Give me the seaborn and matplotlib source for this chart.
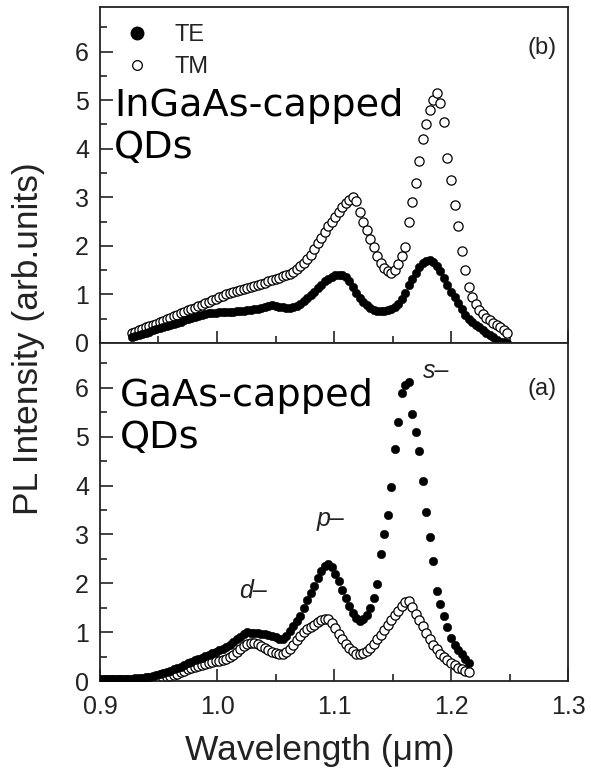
import matplotlib
matplotlib.use("Agg")
import matplotlib.pyplot as plt
import numpy as np
import pandas as pd
import seaborn as sns
from matplotlib.lines import Line2D
from matplotlib.ticker import MultipleLocator, FormatStrFormatter

# ---- (a) GaAs-capped QDs : wavelength grid in nm ----
wl_a_nm = [
    900, 903, 906, 909, 912, 915, 918, 921, 924, 927,
    930, 933, 936, 939, 942, 945, 948, 951, 954, 957,
    960, 963, 966, 969, 972, 975, 978, 981, 984, 987,
    990, 993, 996, 999, 1002, 1005, 1008, 1011, 1014, 1017,
    1020, 1023, 1026, 1029, 1032, 1035, 1038, 1041, 1044, 1047,
    1050, 1053, 1056, 1059, 1062, 1065, 1068, 1071, 1074, 1077,
    1080, 1083, 1086, 1089, 1092, 1095, 1098, 1101, 1104, 1107,
    1110, 1113, 1116, 1119, 1122, 1125, 1128, 1131, 1134, 1137,
    1140, 1143, 1146, 1149, 1152, 1155, 1158, 1161, 1164, 1167,
    1170, 1173, 1176, 1179, 1182, 1185, 1188, 1191, 1194, 1197,
    1200, 1203, 1206, 1209, 1212, 1215,
]
te_a = [
    0.05, 0.05, 0.05, 0.05, 0.05, 0.05, 0.05, 0.05, 0.05, 0.05,
    0.06, 0.06, 0.07, 0.08, 0.09, 0.10, 0.12, 0.14, 0.17, 0.19,
    0.21, 0.24, 0.26, 0.29, 0.32, 0.36, 0.39, 0.42, 0.45, 0.48,
    0.51, 0.54, 0.57, 0.60, 0.63, 0.66, 0.70, 0.74, 0.79, 0.85,
    0.91, 0.96, 1.00, 0.99, 0.98, 0.99, 0.97, 0.96, 0.95, 0.92,
    0.90, 0.87, 0.86, 0.92, 1.02, 1.12, 1.22, 1.34, 1.50, 1.65,
    1.80, 1.95, 2.10, 2.25, 2.36, 2.40, 2.33, 2.20, 2.04, 1.86,
    1.70, 1.54, 1.40, 1.28, 1.23, 1.27, 1.36, 1.50, 1.70, 1.99,
    2.60, 3.00, 3.40, 3.97, 4.75, 5.30, 5.90, 6.05, 6.12, 5.47,
    5.10, 4.70, 4.10, 3.45, 2.95, 2.45, 1.85, 1.58, 1.33, 1.10,
    0.88, 0.74, 0.64, 0.55, 0.46, 0.37,
]
tm_a = [
    0.02, 0.02, 0.02, 0.02, 0.02, 0.02, 0.02, 0.02, 0.02, 0.02,
    0.02, 0.02, 0.02, 0.03, 0.03, 0.04, 0.04, 0.05, 0.06, 0.08,
    0.10, 0.12, 0.15, 0.18, 0.21, 0.24, 0.27, 0.29, 0.31, 0.33,
    0.35, 0.37, 0.38, 0.40, 0.41, 0.43, 0.46, 0.50, 0.54, 0.60,
    0.66, 0.72, 0.76, 0.78, 0.78, 0.76, 0.72, 0.68, 0.64, 0.60,
    0.57, 0.55, 0.56, 0.60, 0.66, 0.74, 0.84, 0.93, 1.00, 1.06,
    1.10, 1.15, 1.20, 1.24, 1.27, 1.26, 1.18, 1.08, 0.96, 0.86,
    0.76, 0.68, 0.61, 0.56, 0.55, 0.57, 0.62, 0.68, 0.76, 0.85,
    0.95, 1.05, 1.14, 1.24, 1.35, 1.44, 1.53, 1.62, 1.64, 1.52,
    1.38, 1.25, 1.12, 0.99, 0.86, 0.74, 0.65, 0.56, 0.49, 0.42,
    0.37, 0.32, 0.27, 0.24, 0.21, 0.18,
]

# ---- (b) InGaAs-capped QDs : wavelength grid in nm ----
wl_b_nm = [
    927, 930, 933, 936, 939, 942, 945, 948, 951, 954,
    957, 960, 963, 966, 969, 972, 975, 978, 981, 984,
    987, 990, 993, 996, 999, 1002, 1005, 1008, 1011, 1014,
    1017, 1020, 1023, 1026, 1029, 1032, 1035, 1038, 1041, 1044,
    1047, 1050, 1053, 1056, 1059, 1062, 1065, 1068, 1071, 1074,
    1077, 1080, 1083, 1086, 1089, 1092, 1095, 1098, 1101, 1104,
    1107, 1110, 1113, 1116, 1119, 1122, 1125, 1128, 1131, 1134,
    1137, 1140, 1143, 1146, 1149, 1152, 1155, 1158, 1161, 1164,
    1167, 1170, 1173, 1176, 1179, 1182, 1185, 1188, 1191, 1194,
    1197, 1200, 1203, 1206, 1209, 1212, 1215, 1218, 1221, 1224,
    1227, 1230, 1233, 1236, 1239, 1242, 1245, 1248,
]
te_b = [
    0.12, 0.14, 0.16, 0.19, 0.21, 0.23, 0.26, 0.28, 0.30, 0.33,
    0.35, 0.37, 0.40, 0.42, 0.44, 0.47, 0.49, 0.51, 0.53, 0.55,
    0.57, 0.59, 0.61, 0.62, 0.62, 0.63, 0.63, 0.64, 0.64, 0.64,
    0.65, 0.65, 0.66, 0.67, 0.68, 0.70, 0.71, 0.73, 0.75, 0.77,
    0.78, 0.77, 0.75, 0.74, 0.73, 0.73, 0.74, 0.76, 0.80, 0.86,
    0.92, 0.99, 1.06, 1.13, 1.20, 1.27, 1.32, 1.36, 1.39, 1.40,
    1.39, 1.35, 1.28, 1.15, 1.02, 0.92, 0.84, 0.78, 0.72, 0.68,
    0.66, 0.65, 0.66, 0.67, 0.70, 0.74, 0.80, 0.90, 1.02, 1.20,
    1.32, 1.45, 1.57, 1.64, 1.68, 1.70, 1.66, 1.58, 1.48, 1.34,
    1.20, 1.06, 0.95, 0.82, 0.69, 0.58, 0.50, 0.44, 0.38, 0.33,
    0.27, 0.21, 0.16, 0.12, 0.07, 0.03, 0.01, 0.00,
]
tm_b = [
    0.20, 0.23, 0.26, 0.29, 0.32, 0.35, 0.38, 0.40, 0.43, 0.46,
    0.49, 0.52, 0.55, 0.58, 0.61, 0.64, 0.67, 0.70, 0.73, 0.76,
    0.79, 0.82, 0.85, 0.88, 0.91, 0.94, 0.97, 1.00, 1.03, 1.05,
    1.07, 1.09, 1.11, 1.13, 1.15, 1.18, 1.20, 1.22, 1.24, 1.27,
    1.29, 1.31, 1.34, 1.37, 1.40, 1.43, 1.47, 1.52, 1.58, 1.64,
    1.72, 1.82, 1.93, 2.05, 2.17, 2.28, 2.40, 2.50, 2.60, 2.70,
    2.80, 2.88, 2.95, 3.00, 2.92, 2.70, 2.50, 2.32, 2.15, 1.98,
    1.80, 1.65, 1.55, 1.48, 1.45, 1.50, 1.62, 1.80, 1.98, 2.50,
    2.90, 3.30, 3.75, 4.20, 4.50, 4.80, 5.00, 5.15, 4.95, 4.55,
    3.80, 3.35, 2.85, 2.40, 1.90, 1.50, 1.15, 0.95, 0.80, 0.68,
    0.60, 0.52, 0.47, 0.42, 0.38, 0.32, 0.27, 0.20,
]

x_ticks = [0.9, 1.0, 1.1, 1.2, 1.3]
y_ticks = [0, 1, 2, 3, 4, 5, 6]

panel_a = pd.DataFrame({"wl": np.array(wl_a_nm) / 1000.0, "TE": te_a, "TM": tm_a})
panel_b = pd.DataFrame({"wl": np.array(wl_b_nm) / 1000.0, "TE": te_b, "TM": tm_b})

sns.set_style("ticks")
plt.rcParams["font.family"] = ["Liberation Sans", "DejaVu Sans"]

ink = "#222222"
fig = plt.figure(figsize=(5.91, 7.73), dpi=100)
ax_b = fig.add_axes([0.1692, 0.5563, 0.7919, 0.4347])
ax_a = fig.add_axes([0.1692, 0.1190, 0.7919, 0.4373])

for ax, df in ((ax_b, panel_b), (ax_a, panel_a)):
    sns.scatterplot(data=df, x="wl", y="TM", ax=ax, marker="o", s=44,
                    color="white", edgecolor="black", linewidth=0.9,
                    legend=False, zorder=2)
    sns.scatterplot(data=df, x="wl", y="TE", ax=ax, marker="o", s=38,
                    color="black", edgecolor="black", linewidth=0.3,
                    legend=False, zorder=3)
    ax.set_xlim(0.9, 1.3)
    ax.set_ylim(0, 6.92)
    ax.set_xticks(x_ticks)
    ax.set_yticks(y_ticks)
    ax.xaxis.set_minor_locator(MultipleLocator(0.05))
    ax.yaxis.set_minor_locator(MultipleLocator(0.5))
    ax.xaxis.set_major_formatter(FormatStrFormatter("%.1f"))
    ax.tick_params(which="both", direction="in", color=ink, width=1.2,
                   labelcolor=ink, labelsize=18)
    ax.tick_params(which="major", length=9)
    ax.tick_params(which="minor", length=5)
    ax.tick_params(axis="y", pad=8)
    ax.tick_params(axis="x", pad=10)
    ax.set_xlabel("")
    ax.set_ylabel("")
    for sp in ax.spines.values():
        sp.set_visible(True)
        sp.set_color(ink)
        sp.set_linewidth(1.3)

ax_b.tick_params(axis="x", labelbottom=False)

# legend
handles = [
    Line2D([], [], marker="o", ls="", color="black", markersize=9),
    Line2D([], [], marker="o", ls="", markerfacecolor="white",
           markeredgecolor="black", markersize=7, markeredgewidth=0.9),
]
leg = ax_b.legend(handles, ["TE", "TM"], loc="upper left",
                  bbox_to_anchor=(0.054, 0.948), frameon=False, fontsize=17,
                  handlelength=1.0, handletextpad=1.1, labelspacing=0.42,
                  borderpad=0, borderaxespad=0)
for t in leg.get_texts():
    t.set_color(ink)

# panel tags
ax_b.text(0.9765, 0.878, "(b)", transform=ax_b.transAxes, ha="right",
          va="center", fontsize=17, color=ink)
ax_a.text(0.9765, 0.864, "(a)", transform=ax_a.transAxes, ha="right",
          va="center", fontsize=17, color=ink)

# sample labels
ax_b.text(0.0306, 0.7574, "InGaAs-capped\nQDs", transform=ax_b.transAxes,
          ha="left", va="top", fontsize=27.5, family="DejaVu Sans",
          color="black", linespacing=1.2)
ax_a.text(0.0427, 0.895, "GaAs-capped\nQDs", transform=ax_a.transAxes,
          ha="left", va="top", fontsize=27.5, family="DejaVu Sans",
          color="black", linespacing=1.2)

# transition labels
ax_a.text(1.1756, 6.20, "s–", fontsize=18, style="italic", color=ink,
          ha="left", va="baseline")
ax_a.text(1.085, 3.18, "p–", fontsize=18, style="italic", color=ink,
          ha="left", va="baseline")
ax_a.text(1.019, 1.70, "d–", fontsize=18, style="italic", color=ink,
          ha="left", va="baseline")

# axis titles
fig.text(0.0475, 0.562, "PL Intensity (arb.units)", rotation=90,
         ha="center", va="center", fontsize=25.5, color=ink)
fig.text(0.5415, 0.0168, "Wavelength (\u03bcm)", ha="center",
         va="baseline", fontsize=25.5, color=ink)

fig.savefig("out.png", dpi=100)
